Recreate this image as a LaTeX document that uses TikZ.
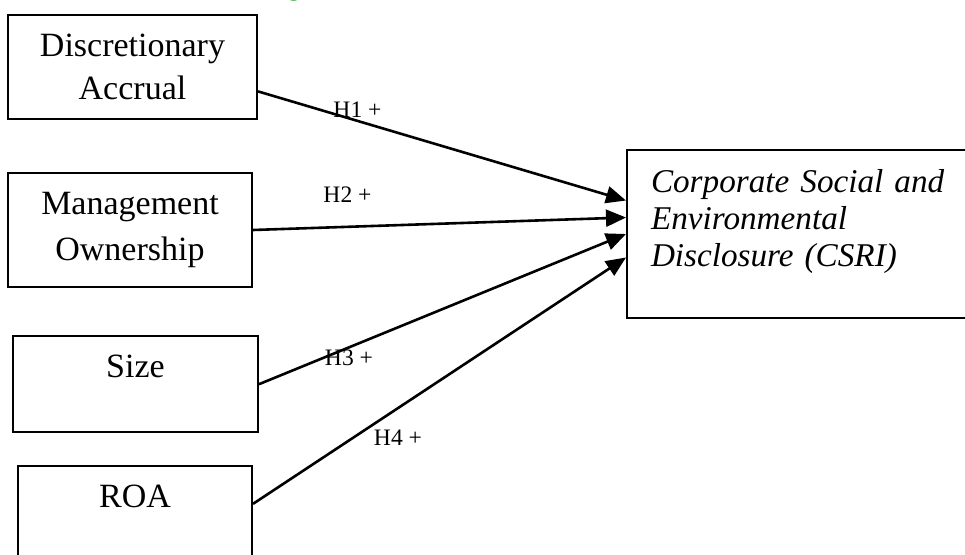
\documentclass[tikz,border=0pt]{standalone}
\usepackage{fontspec}
\setmainfont{Liberation Serif}
\usetikzlibrary{arrows.meta,positioning}
\tikzset{
  varbox/.style={
    draw=black,
    line width=1pt,
    inner xsep=4pt,
    inner ysep=9pt,
    font=\fontsize{17}{21.5}\selectfont,
    align=center
  },
  onerow/.style={varbox, text height=12pt, text depth=18.2pt, anchor=north},
  hyp/.style={font=\fontsize{11.8}{14}\selectfont, inner sep=0pt},
  link/.style={line width=1.3pt, -{Triangle[length=10pt,width=8.5pt]}},
}

\begin{document}
\begin{tikzpicture}[x=0.5pt, y=-0.5pt]
  \useasboundingbox (0,0) rectangle (965,555);
  % caption fragment cut off at the top
  \node[text=green!55!black, font=\fontsize{13}{15}\selectfont, anchor=base, inner sep=0pt] (capg) at (294,-4) {g};
  % independent variables
  \node[varbox, minimum width=124.5pt, minimum height=52pt] (disc) at (132.5,67) {Discretionary\\Accrual};
  \node[varbox, minimum width=122pt, minimum height=57pt] (mgmt) at (130,230) {Management\\[1.5pt]Ownership};
  \node[onerow, minimum width=122.5pt] (size) at (135.5,335) {Size};
  \node[onerow, minimum width=117pt] (roa) at (135,465) {ROA};
  % dependent variable
  \node[varbox, anchor=north west, align=left, text width=158pt, inner xsep=12pt, inner ysep=9.5pt,
        text depth=53.5pt, font=\fontsize{16.6}{18.5}\selectfont\itshape] (csri) at (626,149)
        {Corporate Social and\\Environmental\\Disclosure (CSRI)};
  % hypotheses
  \draw[link] (disc.-11) -- ([yshift=16.75pt]csri.west);
  \draw[link] (mgmt.east) -- ([yshift=8.25pt]csri.west);
  \draw[link] (size.east) -- (csri.west);
  \draw[link] (roa.5) -- ([yshift=-11.75pt]csri.west);
  \node[hyp] (h1) at (357.5,110) {H1 +};
  \node[hyp] (h2) at (347.5,195) {H2 +};
  \node[hyp] (h3) at (349,358) {H3 +};
  \node[hyp] (h4) at (398,438) {H4 +};
\end{tikzpicture}
\end{document}
